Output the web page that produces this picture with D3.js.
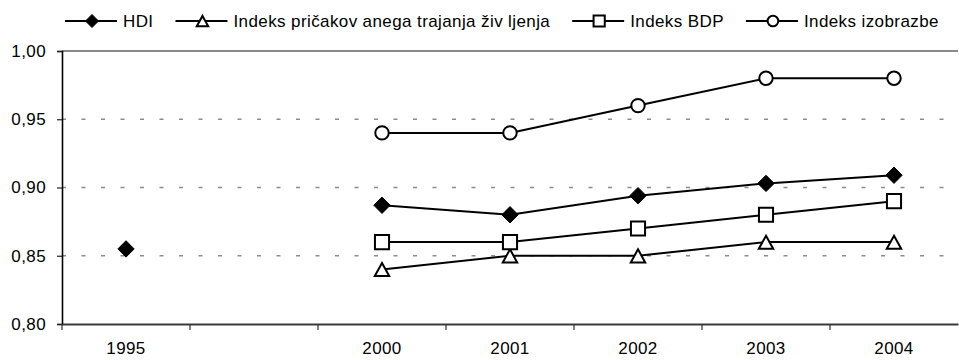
<!DOCTYPE html>
<html>
<head>
<meta charset="utf-8">
<script src="https://cdn.jsdelivr.net/npm/d3@7"></script>
<style>
  html, body { margin: 0; padding: 0; background: #fff; }
  svg { display: block; }
  text { font-family: "Liberation Sans", Arial, sans-serif; fill: #000; }
</style>
</head>
<body>
<svg id="chart" width="959" height="360"></svg>
<script>
// Categories along the x axis (the second slot is an empty year gap)
const categories = ["1995", "", "2000", "2001", "2002", "2003", "2004"];

// Index values per category (null = no data)
const hdi       = [0.855, null, 0.887, 0.880, 0.894, 0.903, 0.909];
const lifeIndex = [null,  null, 0.84,  0.85,  0.85,  0.86,  0.86];
const gdpIndex  = [null,  null, 0.86,  0.86,  0.87,  0.88,  0.89];
const eduIndex  = [null,  null, 0.94,  0.94,  0.96,  0.98,  0.98];

const yTicks = [0.80, 0.85, 0.90, 0.95, 1.00];

const seriesNames = [
  "HDI",
  "Indeks pričakovanega trajanja življenja",
  "Indeks BDP",
  "Indeks izobrazbe"
];

const series = [
  { name: seriesNames[0], values: hdi,       marker: "diamond" },
  { name: seriesNames[1], values: lifeIndex, marker: "triangle" },
  { name: seriesNames[2], values: gdpIndex,  marker: "square" },
  { name: seriesNames[3], values: eduIndex,  marker: "circle" }
];

const svg = d3.select("#chart");
const W = 959, H = 360;
const margin = { top: 51, right: 1, bottom: 36, left: 62 };
const plotW = W - margin.left - margin.right;
const plotH = H - margin.top - margin.bottom;

const x = d3.scaleBand().domain(categories).range([0, plotW]).padding(0);
const y = d3.scaleLinear().domain([0.80, 1.00]).range([plotH, 0]);

const locale = d3.formatLocale({ decimal: ",", thousands: ".", grouping: [3], currency: ["", ""] });
const fmt = locale.format(".2f");

const g = svg.append("g").attr("transform", `translate(${margin.left},${margin.top})`);

// Horizontal gridlines: dashed inside, solid at the top value
g.append("g").selectAll("line")
  .data(yTicks.filter(t => t > 0.80))
  .join("line")
  .attr("x1", 0).attr("x2", plotW)
  .attr("y1", d => y(d)).attr("y2", d => y(d))
  .attr("stroke", d => d === 1.00 ? "#8a8a8a" : "#8c8c8c")
  .attr("stroke-width", d => d === 1.00 ? 2 : 1.3)
  .attr("stroke-dasharray", d => d === 1.00 ? null : "4,15.5");

// Y axis
const yAxis = g.append("g")
  .call(d3.axisLeft(y).tickValues(yTicks).tickSize(5).tickPadding(11).tickFormat(fmt));
yAxis.select(".domain").attr("stroke", "#000").attr("stroke-width", 1.6);
yAxis.selectAll(".tick line").attr("stroke", "#222").attr("stroke-width", 1.2);
yAxis.selectAll(".tick text")
  .style("font-family", "'Liberation Sans', Arial, sans-serif")
  .style("font-size", "17px")
  .style("letter-spacing", "0.4px")
  .attr("fill", "#000");

// X axis: labels at category centres, tick marks at category boundaries
const xAxis = g.append("g")
  .attr("transform", `translate(0,${plotH})`)
  .call(d3.axisBottom(x).tickSize(0).tickPadding(18));
xAxis.select(".domain").attr("stroke", "#3a3a3a").attr("stroke-width", 2);
xAxis.selectAll(".tick text")
  .style("font-family", "'Liberation Sans', Arial, sans-serif")
  .style("font-size", "17px")
  .style("letter-spacing", "0.4px")
  .attr("fill", "#000");

xAxis.append("g").selectAll("line")
  .data(categories)
  .join("line")
  .attr("x1", d => x(d)).attr("x2", d => x(d))
  .attr("y1", 0).attr("y2", 6)
  .attr("stroke", "#333").attr("stroke-width", 1.2);

// Marker shapes
function markerPath(type, s) {
  if (type === "diamond") {
    return `M0,${-s}L${s},0L0,${s}L${-s},0Z`;
  }
  if (type === "triangle") {
    const hw = s * 0.88, top = -s * 0.78, bot = s * 0.82;
    return `M0,${top}L${hw},${bot}L${-hw},${bot}Z`;
  }
  if (type === "square") {
    const h = s * 0.86;
    return `M${-h},${-h}H${h}V${h}H${-h}Z`;
  }
  return d3.arc()({ innerRadius: 0, outerRadius: s * 0.82, startAngle: 0, endAngle: 2 * Math.PI });
}

function drawMarker(sel, type, s) {
  sel.append("path")
    .attr("d", markerPath(type, s))
    .attr("fill", type === "diamond" ? "#000" : "#fff")
    .attr("stroke", "#000")
    .attr("stroke-width", type === "diamond" ? 1 : 2)
    .attr("stroke-linejoin", "miter");
}

const line = d3.line()
  .defined(d => d.v != null)
  .x(d => x(d.c) + x.bandwidth() / 2)
  .y(d => y(d.v));

series.forEach(s => {
  const pts = categories.map((c, i) => ({ c, v: s.values[i] }));
  g.append("path")
    .datum(pts)
    .attr("d", line)
    .attr("fill", "none")
    .attr("stroke", "#000")
    .attr("stroke-width", 2);
});

series.forEach(s => {
  const pts = categories.map((c, i) => ({ c, v: s.values[i] })).filter(d => d.v != null);
  g.append("g").selectAll("g")
    .data(pts)
    .join("g")
    .attr("transform", d => `translate(${x(d.c) + x.bandwidth() / 2},${y(d.v)})`)
    .each(function () { drawMarker(d3.select(this), s.marker, 8.2); });
});

// Legend across the top
const legend = svg.append("g");
let lx = 65;
const ly = 21;
series.forEach((s, i) => {
  const item = legend.append("g");
  item.append("line")
    .attr("x1", lx).attr("x2", lx + 52)
    .attr("y1", ly).attr("y2", ly)
    .attr("stroke", "#000").attr("stroke-width", 2);
  const mk = item.append("g").attr("transform", `translate(${lx + 27},${ly})`);
  drawMarker(mk, s.marker, 6.5);
  const t = item.append("text")
    .attr("x", lx + 58)
    .attr("y", ly + 6)
    .style("font-size", "17px")
    .style("letter-spacing", "0.4px");
  if (i === 1) {
    // Word spacing as laid out in the legend
    t.append("tspan").text("Indeks pričakov");
    t.append("tspan").attr("dx", 5).text("anega trajanja živ");
    t.append("tspan").attr("dx", 5).text("ljenja");
  } else {
    t.text(s.name);
  }
  const w = t.node().getComputedTextLength() + (i === 1 ? 10 : 0);
  lx = lx + 58 + w + 22;
});
</script>
</body>
</html>
